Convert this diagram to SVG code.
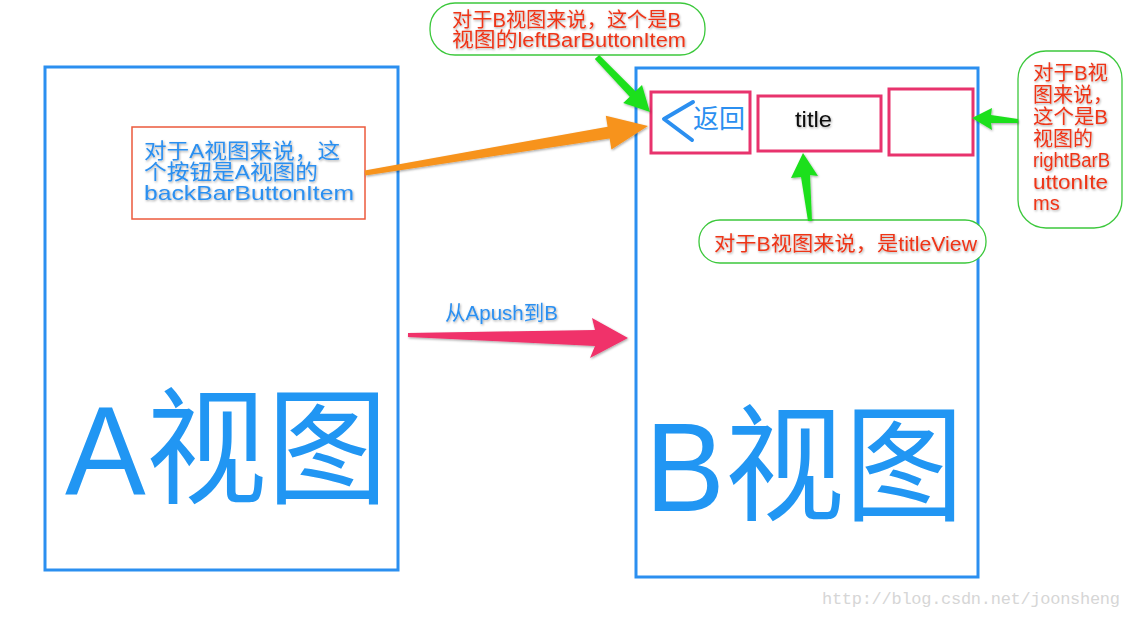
<svg xmlns="http://www.w3.org/2000/svg" width="1133" height="619" viewBox="0 0 1133 619">
<style>
.frame{fill:none;stroke:#2b8ff0;stroke-width:3}
.nav{fill:none;stroke:#e8336d;stroke-width:3}
.callout{fill:#fff;stroke:#3cc83c;stroke-width:1.3}
.note{fill:#fff;stroke:#ec5a3c;stroke-width:1.5}
.t{font-family:"Liberation Sans","Noto Sans CJK SC",sans-serif}
.red{fill:#ee3418;font-size:20px}
.blue{fill:#2b8ff0;font-size:21px}
.big{fill:#2196f3;font-size:127px}
.green{fill:#1fe01f}
</style>
<defs>
<filter id="sh" x="-10%" y="-30%" width="120%" height="160%">
<feDropShadow dx="0.8" dy="1.2" stdDeviation="0.9" flood-color="#000" flood-opacity="0.35"/>
</filter>
</defs>
<rect width="1133" height="619" fill="#fff"/>

<g id="viewA">
<rect class="frame" x="45" y="67" width="353" height="503"/>
<text class="t big" x="65" y="494" textLength="323" lengthAdjust="spacingAndGlyphs">A视图</text>
</g>

<g id="viewB">
<rect class="frame" x="636" y="68" width="342" height="509"/>
<text class="t big" x="645" y="511" textLength="319" lengthAdjust="spacingAndGlyphs">B视图</text>
</g>

<g id="backItem">
<rect class="nav" x="651" y="92" width="99" height="61"/>
<polyline points="693,102 664,119 692,140" fill="none" stroke="#2b8ff0" stroke-width="4" stroke-linecap="round" stroke-linejoin="round"/>
<text class="t" x="693" y="128" font-size="26" fill="#2b8ff0">返回</text>
</g>

<g id="titleItem">
<rect class="nav" x="758" y="96" width="123" height="55"/>
<text class="t" x="795" y="127" font-size="22" fill="#111" filter="url(#sh)" textLength="37" lengthAdjust="spacingAndGlyphs">title</text>
</g>

<g id="rightItem">
<rect class="nav" x="889" y="89" width="84" height="66"/>
</g>

<g id="noteA">
<rect class="note" x="132" y="127" width="233" height="92"/>
<g class="t blue" filter="url(#sh)">
<text x="144" y="158" textLength="196" lengthAdjust="spacingAndGlyphs">对于A视图来说，这</text>
<text x="144" y="179" textLength="174" lengthAdjust="spacingAndGlyphs">个按钮是A视图的</text>
<text x="144" y="200" textLength="210" lengthAdjust="spacingAndGlyphs">backBarButtonItem</text>
</g>
</g>

<g id="noteLeft">
<rect class="callout" x="430" y="3" width="275" height="52" rx="25"/>
<g class="t red" filter="url(#sh)">
<text x="452" y="27" textLength="229" lengthAdjust="spacingAndGlyphs">对于B视图来说，这个是B</text>
<text x="452" y="47" textLength="234" lengthAdjust="spacingAndGlyphs">视图的leftBarButtonItem</text>
</g>
</g>

<g id="noteRight">
<rect class="callout" x="1018" y="51" width="104" height="177" rx="28"/>
<g class="t red" filter="url(#sh)">
<text x="1033" y="80" textLength="75" lengthAdjust="spacingAndGlyphs">对于B视</text>
<text x="1033" y="102">图来说，</text>
<text x="1033" y="124" textLength="75" lengthAdjust="spacingAndGlyphs">这个是B</text>
<text x="1033" y="146">视图的</text>
<text x="1033" y="167" textLength="77" lengthAdjust="spacingAndGlyphs">rightBarB</text>
<text x="1033" y="189" textLength="75" lengthAdjust="spacingAndGlyphs">uttonIte</text>
<text x="1033" y="210">ms</text>
</g>
</g>

<g id="noteTitle">
<rect class="callout" x="699" y="220" width="287" height="43" rx="21"/>
<text class="t red" x="714" y="251" textLength="263" lengthAdjust="spacingAndGlyphs" filter="url(#sh)">对于B视图来说，是titleView</text>
</g>

<g id="pushLabel">
<text class="t blue" x="445" y="320" textLength="113" lengthAdjust="spacingAndGlyphs" filter="url(#sh)">从Apush到B</text>
</g>

<g id="connectors">
<polygon fill="#f7931e" filter="url(#sh)" points="364.6,170.5 607.6,126.7 605.8,115.8 648,126 611.4,149.4 609.6,138.5 365.4,175.5"/>
<polygon class="green" filter="url(#sh)" points="594.8,59.1 629.7,96.8 623.2,103 650,112 642,85 635.5,91.2 599.2,54.9"/>
<polygon class="green" filter="url(#sh)" points="1018,119 991,115 992,108 972,118 992,130 991,123 1018,123"/>
<polygon class="green" filter="url(#sh)" points="808,221 801,177 791,178 803,153 818,176 810,175 812,221"/>
<polygon fill="#f0306a" filter="url(#sh)" points="408,333 595,330 592,318 628,338 590,358 595,346 408,337"/>
</g>

<text x="822" y="604" font-family="Liberation Mono, monospace" font-size="17" fill="#d6d6d6" textLength="298">http://blog.csdn.net/joonsheng</text>
</svg>
